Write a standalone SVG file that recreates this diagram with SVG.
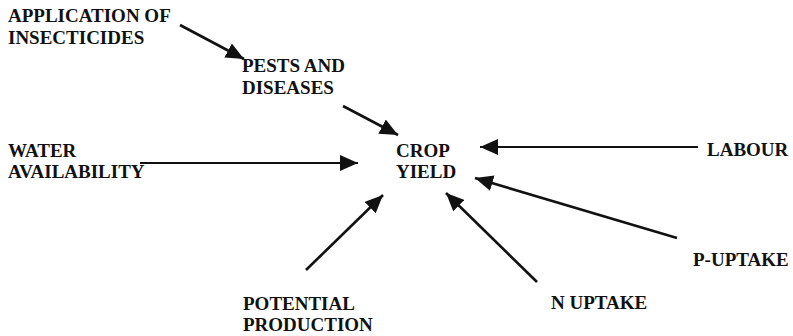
<svg xmlns="http://www.w3.org/2000/svg" width="793" height="336" viewBox="0 0 793 336">
  <style>
    .lbl { font-family: "Liberation Serif", "Times New Roman", serif; font-weight: bold; font-size: 19px; fill: #111; }
    .arr { stroke: #111; stroke-width: 2.6; fill: none; marker-end: url(#head); }
    .arr.thin { stroke-width: 2; }
  </style>
  <defs>
    <marker id="head" markerUnits="userSpaceOnUse" markerWidth="20" markerHeight="16" refX="18" refY="8" orient="auto">
      <path d="M0,0 L18,8 L0,16 Z" fill="#111"/>
    </marker>
  </defs>

  <rect width="793" height="336" fill="#fff"/>

  <!-- influence arrows -->
  <g id="connectors">
    <line class="arr" x1="180" y1="25" x2="244" y2="59"/>
    <line class="arr" x1="343" y1="106" x2="398" y2="135"/>
    <line class="arr thin" x1="140" y1="163" x2="358" y2="163"/>
    <line class="arr thin" x1="698" y1="147" x2="480" y2="147"/>
    <line class="arr" x1="677" y1="238" x2="475" y2="178"/>
    <line class="arr" x1="537" y1="282" x2="446" y2="193"/>
    <line class="arr" x1="306" y1="270" x2="383" y2="195"/>
  </g>

  <g id="insecticides">
    <text class="lbl" x="8" y="22">APPLICATION OF</text>
    <text class="lbl" x="8" y="44">INSECTICIDES</text>
  </g>
  <g id="pests">
    <text class="lbl" x="242" y="72">PESTS AND</text>
    <text class="lbl" x="242" y="94">DISEASES</text>
  </g>
  <g id="water">
    <text class="lbl" x="8" y="157">WATER</text>
    <text class="lbl" x="8" y="178">AVAILABILITY</text>
  </g>
  <g id="crop-yield">
    <text class="lbl" x="396" y="157">CROP</text>
    <text class="lbl" x="396" y="178">YIELD</text>
  </g>
  <g id="labour">
    <text class="lbl" x="707" y="156">LABOUR</text>
  </g>
  <g id="p-uptake">
    <text class="lbl" x="693" y="266">P-UPTAKE</text>
  </g>
  <g id="n-uptake">
    <text class="lbl" x="551" y="309">N UPTAKE</text>
  </g>
  <g id="potential">
    <text class="lbl" x="243" y="310">POTENTIAL</text>
    <text class="lbl" x="243" y="331">PRODUCTION</text>
  </g>
</svg>
